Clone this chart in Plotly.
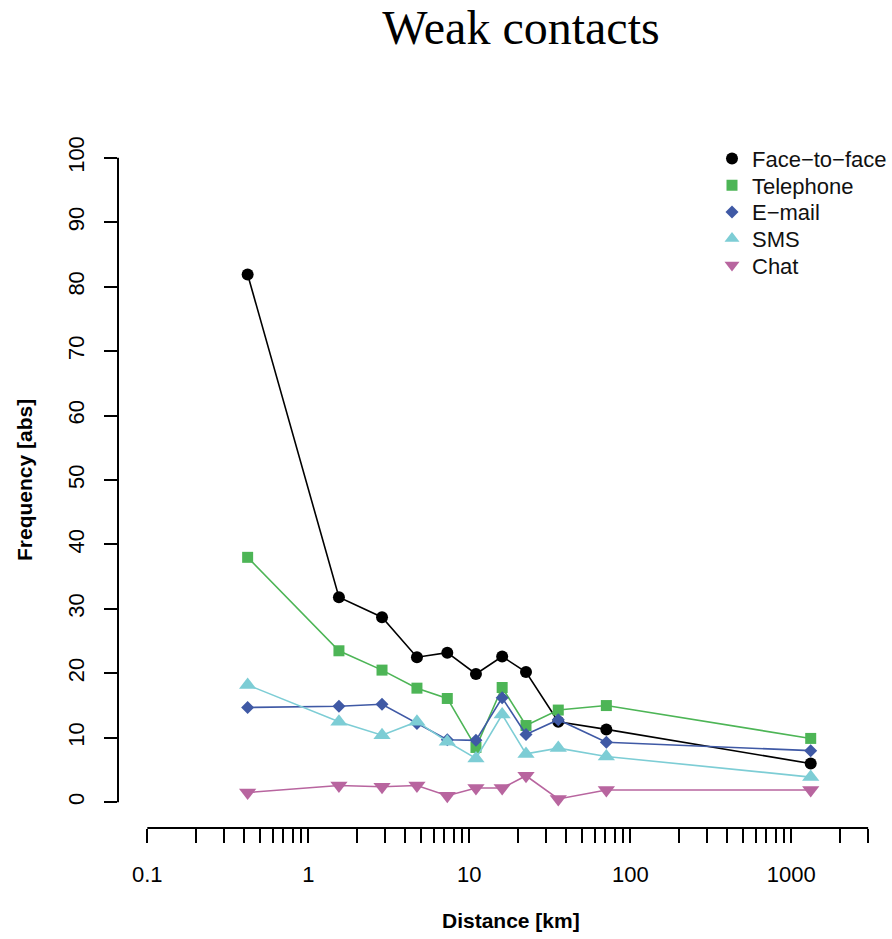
import plotly.graph_objects as go

# ---- data ----
distance_km = [0.42, 1.55, 2.87, 4.73, 7.3, 11.0, 16.0, 22.5, 35.7, 71.0, 1320]
face_to_face = [81.9, 31.8, 28.7, 22.5, 23.2, 19.9, 22.6, 20.2, 12.5, 11.3, 6.0]
telephone = [38.0, 23.5, 20.5, 17.7, 16.1, 8.5, 17.8, 11.9, 14.3, 15.0, 9.9]
email = [14.7, 14.9, 15.2, 12.2, 9.7, 9.6, 16.2, 10.5, 12.8, 9.3, 8.0]
sms = [18.2, 12.5, 10.4, 12.5, 9.4, 6.8, 13.6, 7.5, 8.4, 7.1, 3.9]
chat = [1.5, 2.6, 2.4, 2.6, 1.0, 2.2, 2.2, 4.1, 0.5, 1.9, 1.9]

series_names = ["Face\u2212to\u2212face", "Telephone", "E\u2212mail", "SMS", "Chat"]
series_values = [face_to_face, telephone, email, sms, chat]
series_colors = ["#000000", "#4DB556", "#3F59A5", "#7DCDD5", "#B8659F"]
series_symbols = ["circle", "square", "diamond", "triangle-up", "triangle-down"]
series_sizes = [12, 11, 10, 15, 15]

x_decades = [0.1, 1, 10, 100, 1000]
x_decade_labels = ["0.1", "1", "10", "100", "1000"]
x_tick_vals = [round(m * d, 6) for d in x_decades[:-1] for m in range(1, 10)] + [1000, 2000, 3000]
x_tick_text = [x_decade_labels[x_decades.index(v)] if v in x_decades else "" for v in x_tick_vals]
y_tick_vals = list(range(0, 101, 10))

# ---- layout geometry (pixels) ----
W, H = 892, 939
L, R, T, B = 118, 892, 131.5, 828.5
pw, ph = R - L, B - T
dec = 161.0
x0px = 147.3  # pixel of 0.1
xr = [-1 + (L - x0px) / dec, -1 + (R - x0px) / dec]

FONT = "Liberation Sans, Arial, Helvetica, sans-serif"
legend_centers = [158.3, 185.0, 211.7, 238.3, 265.0]
legend_ids = ["legend", "legend2", "legend3", "legend4", "legend5"]

fig = go.Figure()
for name, vals, col, sym, sz in zip(series_names, series_values, series_colors,
                                     series_symbols, series_sizes):
    fig.add_trace(go.Scatter(
        x=distance_km, y=vals, name=name, mode="lines+markers",
        line=dict(color=col, width=1.6),
        marker=dict(symbol=sym, size=sz, color=col, line=dict(width=0)),
        showlegend=False,
    ))
# legend entries (marker only, like R's legend with pch)
for name, col, sym, sz, lg in zip(series_names, series_colors, series_symbols,
                                  series_sizes, legend_ids):
    fig.add_trace(go.Scatter(
        x=[None], y=[None], name=name, mode="markers",
        marker=dict(symbol=sym, size=min(sz, 13), color=col, line=dict(width=0)),
        legend=lg, showlegend=True,
    ))

legend_layout = {}
for lg, cy in zip(legend_ids, legend_centers):
    legend_layout[lg] = dict(
        x=(712 - L) / pw, y=(B - cy) / ph, xanchor="left", yanchor="middle",
        bgcolor="rgba(0,0,0,0)", borderwidth=0,
        font=dict(family=FONT, size=22, color="#111111"),
        itemsizing="trace",
    )

fig.update_layout(
    width=W, height=H,
    margin=dict(l=L, r=W - R, t=T, b=H - B, pad=0),
    paper_bgcolor="white", plot_bgcolor="white",
    font=dict(family=FONT, size=22, color="black"),
    showlegend=True,
    title=dict(text="Weak contacts", x=521 / W, xref="container", xanchor="center",
               y=1 - 27 / H, yref="container", yanchor="middle",
               font=dict(family="Liberation Serif, Times New Roman, serif", size=48, color="black")),
    xaxis=dict(type="log", range=xr, showgrid=False, zeroline=False, showline=False,
               tickmode="array", tickvals=x_tick_vals, ticktext=x_tick_text,
               ticks="outside", ticklen=14, tickwidth=2, tickcolor="black",
               ticklabelstandoff=13, tickfont=dict(size=22, color="black")),
    yaxis=dict(range=[-4, 104], showgrid=False, zeroline=False, showline=False,
               tickmode="array", tickvals=y_tick_vals,
               ticks="outside", ticklen=13, tickwidth=2, tickcolor="black",
               tickangle=-90, ticklabelstandoff=11, tickfont=dict(size=22, color="black")),
    shapes=[
        dict(type="line", xref="x", yref="paper", x0=0.1, x1=3000, y0=0, y1=0,
             line=dict(color="black", width=2)),
        dict(type="line", xref="paper", yref="y", x0=0, x1=0, y0=0, y1=100,
             line=dict(color="black", width=2)),
    ],
    annotations=[
        dict(text="<b>Distance [km]</b>", xref="paper", yref="paper",
             x=(511 - L) / pw, y=(B - 921) / ph, xanchor="center", yanchor="middle",
             showarrow=False, font=dict(family=FONT, size=21, color="black")),
        dict(text="<b>Frequency [abs]</b>", xref="paper", yref="paper",
             x=(24 - L) / pw, y=(B - 480) / ph, xanchor="center", yanchor="middle",
             textangle=-90, showarrow=False, font=dict(family=FONT, size=21, color="black")),
    ],
    **legend_layout,
)

fig.write_html("out.html", config={"displayModeBar": False},
               post_script="document.body.style.margin='0px';document.body.style.overflow='hidden';")
